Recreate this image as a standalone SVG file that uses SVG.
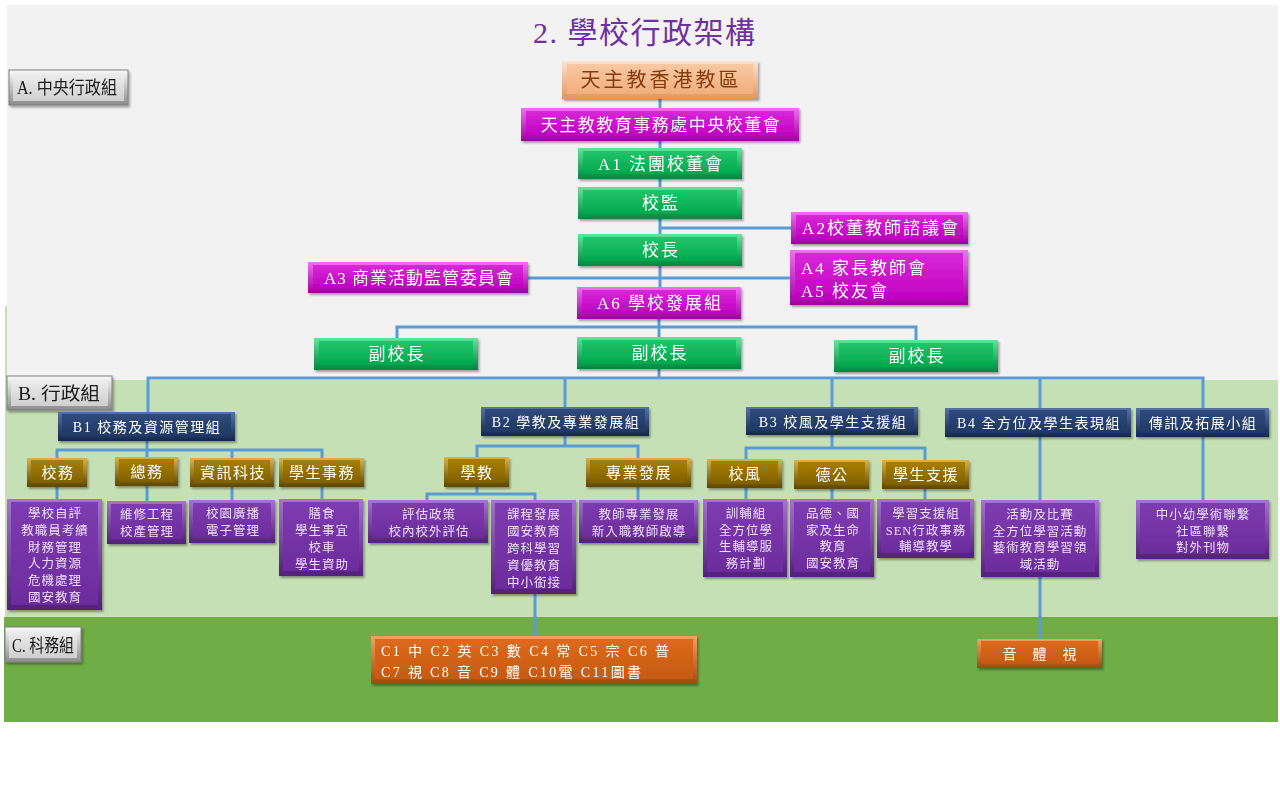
<svg xmlns="http://www.w3.org/2000/svg" width="1280" height="794" viewBox="0 0 1280 794">
<defs>
<filter id="sh" x="-10%" y="-20%" width="125%" height="150%"><feDropShadow dx="1.5" dy="2" stdDeviation="1.2" flood-color="#000" flood-opacity="0.35"/></filter>
<linearGradient id="grO" x1="0" y1="0" x2="0" y2="1"><stop offset="0" stop-color="#5ee69a"/><stop offset="1" stop-color="#00873f"/></linearGradient>
<linearGradient id="grI" x1="0" y1="0" x2="0" y2="1"><stop offset="0" stop-color="#22c46a"/><stop offset="1" stop-color="#00a84c"/></linearGradient>
<linearGradient id="mgO" x1="0" y1="0" x2="0" y2="1"><stop offset="0" stop-color="#f070f0"/><stop offset="1" stop-color="#a000a0"/></linearGradient>
<linearGradient id="mgI" x1="0" y1="0" x2="0" y2="1"><stop offset="0" stop-color="#d828d8"/><stop offset="1" stop-color="#c000c0"/></linearGradient>
<linearGradient id="orO" x1="0" y1="0" x2="0" y2="1"><stop offset="0" stop-color="#fde3cf"/><stop offset="1" stop-color="#e0965e"/></linearGradient>
<linearGradient id="orI" x1="0" y1="0" x2="0" y2="1"><stop offset="0" stop-color="#f8c9a4"/><stop offset="1" stop-color="#f2ae7a"/></linearGradient>
<linearGradient id="nvO" x1="0" y1="0" x2="0" y2="1"><stop offset="0" stop-color="#5673a6"/><stop offset="1" stop-color="#15284a"/></linearGradient>
<linearGradient id="nvI" x1="0" y1="0" x2="0" y2="1"><stop offset="0" stop-color="#2f4b7c"/><stop offset="1" stop-color="#1f3864"/></linearGradient>
<linearGradient id="gdO" x1="0" y1="0" x2="0" y2="1"><stop offset="0" stop-color="#d9b24a"/><stop offset="1" stop-color="#5e4700"/></linearGradient>
<linearGradient id="gdI" x1="0" y1="0" x2="0" y2="1"><stop offset="0" stop-color="#a88000"/><stop offset="1" stop-color="#7f6000"/></linearGradient>
<linearGradient id="puO" x1="0" y1="0" x2="0" y2="1"><stop offset="0" stop-color="#a872d0"/><stop offset="1" stop-color="#52207a"/></linearGradient>
<linearGradient id="puI" x1="0" y1="0" x2="0" y2="1"><stop offset="0" stop-color="#7d3cb0"/><stop offset="1" stop-color="#6c2c9c"/></linearGradient>
<linearGradient id="dkO" x1="0" y1="0" x2="0" y2="1"><stop offset="0" stop-color="#f5a060"/><stop offset="1" stop-color="#a24a0c"/></linearGradient>
<linearGradient id="dkI" x1="0" y1="0" x2="0" y2="1"><stop offset="0" stop-color="#de6a1c"/><stop offset="1" stop-color="#c55a11"/></linearGradient>
<linearGradient id="gyO" x1="0" y1="0" x2="0" y2="1"><stop offset="0" stop-color="#fafafa"/><stop offset="1" stop-color="#8c8c8c"/></linearGradient>
<linearGradient id="gyI" x1="0" y1="0" x2="0" y2="1"><stop offset="0" stop-color="#eeeeee"/><stop offset="1" stop-color="#cfcfcf"/></linearGradient>
</defs>
<style>
text{font-family:"Liberation Serif","Noto Sans CJK TC",serif;text-anchor:middle}
.node{filter:url(#sh)}
.green .o{fill:url(#grO)} .green .i{fill:url(#grI)}
.mag .o{fill:url(#mgO)} .mag .i{fill:url(#mgI)}
.org .o{fill:url(#orO)} .org .i{fill:url(#orI)}
.navy .o{fill:url(#nvO)} .navy .i{fill:url(#nvI)}
.gold .o{fill:url(#gdO)} .gold .i{fill:url(#gdI)}
.pur .o{fill:url(#puO)} .pur .i{fill:url(#puI)}
.dko .o{fill:url(#dkO)} .dko .i{fill:url(#dkI)}
.gray .o{fill:url(#gyO);stroke:#7f7f7f;stroke-width:1} .gray .i{fill:url(#gyI)}
.green text,.mag text,.navy text,.gold text,.dko text{fill:#ffffff}
.org text{fill:#843c0c}
.pur text{fill:#ecdff8;font-size:12.5px;letter-spacing:1px}
.gray text{fill:#1a1a1a;font-size:18px}
.big text{font-size:17px;letter-spacing:2px}
.navy text{font-size:14px;letter-spacing:1.5px}
.gold text{font-size:15px;letter-spacing:1.5px}
#connectors path{fill:none;stroke:#5b9bd5;stroke-width:3}
</style>
<rect x="0" y="0" width="1280" height="794" fill="#ffffff"/>
<rect x="7" y="5" width="1271" height="375" fill="#f2f2f2"/>
<rect x="5" y="306" width="2" height="74" fill="#c5e0b4"/>
<rect x="5" y="380" width="1273" height="237" fill="#c5e0b4"/>
<rect x="4" y="617" width="1274" height="105" fill="#70ad47"/>

<text x="644" y="43" font-size="30" fill="#7030a0" textLength="222" lengthAdjust="spacing">2. 學校行政架構</text>

<g id="connectors">
<path d="M660 99V108M660 141V148M660 179V187M660 219V234M660 228H791M660 266V287M528 278H790"/>
<path d="M659 319V337M397 338V327H916V340"/>
<path d="M659 369V378M148 412V378H1203V408M565 378V407M832 378V407M1040 378V408"/>
<path d="M147 441V457M57 458V450H322V458M232 450V458"/>
<path d="M57 487V499M147 486V501M232 487V500M322 487V499"/>
<path d="M565 436V446M477 457V446H638V458"/>
<path d="M477 487V494M427 500V494H535V500M638 487V500"/>
<path d="M535 594V636"/>
<path d="M832 435V448M746 459V448H925V460M746 488V499M832 489V499M925 489V499"/>
<path d="M1040 437V639M1203 437V500"/>
</g>

<g id="lbl-a" class="node gray"><rect class="o" x="9" y="70" width="119" height="35"/><rect class="i" x="13" y="73" width="111" height="28"/><text x="67" y="94" textLength="100" lengthAdjust="spacingAndGlyphs">A. 中央行政組</text></g>
<g id="lbl-b" class="node gray"><rect class="o" x="7" y="376" width="105" height="34"/><rect class="i" x="11" y="379" width="97" height="27"/><text x="59" y="400" textLength="82" lengthAdjust="spacingAndGlyphs">B. 行政組</text></g>
<g id="lbl-c" class="node gray"><rect class="o" x="5" y="627" width="76" height="35"/><rect class="i" x="9" y="630" width="68" height="28"/><text x="43" y="652" textLength="62" lengthAdjust="spacingAndGlyphs">C. 科務組</text></g>

<g id="n-diocese" class="node org"><rect class="o" x="562" y="61" width="196" height="38"/><rect class="i" x="567" y="64" width="186" height="30"/><text x="661" y="87" font-size="20" letter-spacing="3">天主教香港教區</text></g>
<g id="n-central" class="node mag big"><rect class="o" x="521" y="108" width="278" height="33"/><rect class="i" x="526" y="111" width="268" height="25"/><text x="661" y="131" style="letter-spacing:1.5px">天主教教育事務處中央校董會</text></g>
<g id="n-a1" class="node green big"><rect class="o" x="578" y="148" width="164" height="31"/><rect class="i" x="583" y="151" width="154" height="23"/><text x="661" y="170">A1 法團校董會</text></g>
<g id="n-supervisor" class="node green big"><rect class="o" x="578" y="187" width="164" height="32"/><rect class="i" x="583" y="190" width="154" height="24"/><text x="661" y="209">校監</text></g>
<g id="n-a2" class="node mag big"><rect class="o" x="791" y="212" width="177" height="32"/><rect class="i" x="796" y="215" width="167" height="24"/><text x="881" y="234">A2校董教師諮議會</text></g>
<g id="n-principal" class="node green big"><rect class="o" x="578" y="234" width="164" height="32"/><rect class="i" x="583" y="237" width="154" height="24"/><text x="661" y="256">校長</text></g>
<g id="n-a45" class="node mag big"><rect class="o" x="790" y="250" width="178" height="55"/><rect class="i" x="795" y="253" width="168" height="47"/><text x="801" y="274" style="text-anchor:start">A4 家長教師會</text><text x="801" y="297" style="text-anchor:start">A5 校友會</text></g>
<g id="n-a3" class="node mag big"><rect class="o" x="308" y="262" width="220" height="31"/><rect class="i" x="313" y="265" width="210" height="23"/><text x="419" y="284" style="letter-spacing:1px">A3 商業活動監管委員會</text></g>
<g id="n-a6" class="node mag big"><rect class="o" x="577" y="287" width="164" height="32"/><rect class="i" x="582" y="290" width="154" height="24"/><text x="660" y="309">A6  學校發展組</text></g>
<g id="n-vp1" class="node green big"><rect class="o" x="314" y="338" width="164" height="32"/><rect class="i" x="319" y="341" width="154" height="24"/><text x="397" y="360">副校長</text></g>
<g id="n-vp2" class="node green big"><rect class="o" x="577" y="337" width="164" height="32"/><rect class="i" x="582" y="340" width="154" height="24"/><text x="660" y="359">副校長</text></g>
<g id="n-vp3" class="node green big"><rect class="o" x="834" y="340" width="164" height="32"/><rect class="i" x="839" y="343" width="154" height="24"/><text x="917" y="362">副校長</text></g>

<g id="n-b1" class="node navy"><rect class="o" x="58" y="412" width="177" height="29"/><rect class="i" x="62" y="414" width="169" height="23"/><text x="147" y="432">B1 校務及資源管理組</text></g>
<g id="n-b2" class="node navy"><rect class="o" x="481" y="407" width="168" height="29"/><rect class="i" x="485" y="409" width="160" height="23"/><text x="566" y="427">B2 學教及專業發展組</text></g>
<g id="n-b3" class="node navy"><rect class="o" x="746" y="407" width="172" height="28"/><rect class="i" x="750" y="409" width="164" height="22"/><text x="833" y="427">B3 校風及學生支援組</text></g>
<g id="n-b4" class="node navy"><rect class="o" x="945" y="408" width="186" height="29"/><rect class="i" x="949" y="410" width="178" height="23"/><text x="1039" y="428">B4 全方位及學生表現組</text></g>
<g id="n-b5" class="node navy"><rect class="o" x="1136" y="408" width="133" height="29"/><rect class="i" x="1140" y="410" width="125" height="23"/><text x="1203" y="428">傳訊及拓展小組</text></g>

<g id="n-g1" class="node gold"><rect class="o" x="27" y="458" width="60" height="29"/><rect class="i" x="31" y="460" width="52" height="23"/><text x="58" y="478">校務</text></g>
<g id="n-g2" class="node gold"><rect class="o" x="115" y="457" width="63" height="29"/><rect class="i" x="119" y="459" width="55" height="23"/><text x="147" y="477">總務</text></g>
<g id="n-g3" class="node gold"><rect class="o" x="190" y="458" width="84" height="29"/><rect class="i" x="194" y="460" width="76" height="23"/><text x="233" y="478">資訊科技</text></g>
<g id="n-g4" class="node gold"><rect class="o" x="279" y="458" width="85" height="29"/><rect class="i" x="283" y="460" width="77" height="23"/><text x="322" y="478">學生事務</text></g>
<g id="n-g5" class="node gold"><rect class="o" x="444" y="457" width="65" height="30"/><rect class="i" x="448" y="459" width="57" height="24"/><text x="477" y="478">學教</text></g>
<g id="n-g6" class="node gold"><rect class="o" x="586" y="458" width="105" height="29"/><rect class="i" x="590" y="460" width="97" height="23"/><text x="639" y="478">專業發展</text></g>
<g id="n-g7" class="node gold"><rect class="o" x="707" y="459" width="75" height="29"/><rect class="i" x="711" y="461" width="67" height="23"/><text x="745" y="479">校風</text></g>
<g id="n-g8" class="node gold"><rect class="o" x="794" y="460" width="75" height="29"/><rect class="i" x="798" y="462" width="67" height="23"/><text x="832" y="480">德公</text></g>
<g id="n-g9" class="node gold"><rect class="o" x="882" y="460" width="87" height="29"/><rect class="i" x="886" y="462" width="79" height="23"/><text x="926" y="480">學生支援</text></g>

<g id="n-p1" class="node pur"><rect class="o" x="7" y="499" width="95" height="111"/><rect class="i" x="11" y="502" width="87" height="103"/>
<text x="55" y="518">學校自評</text><text x="55" y="535">教職員考績</text><text x="55" y="552">財務管理</text><text x="55" y="568">人力資源</text><text x="55" y="585">危機處理</text><text x="55" y="602">國安教育</text></g>
<g id="n-p2" class="node pur"><rect class="o" x="107" y="501" width="79" height="43"/><rect class="i" x="111" y="504" width="71" height="35"/><text x="147" y="519">維修工程</text><text x="147" y="536">校產管理</text></g>
<g id="n-p3" class="node pur"><rect class="o" x="189" y="500" width="86" height="43"/><rect class="i" x="193" y="503" width="78" height="35"/><text x="233" y="518">校園廣播</text><text x="233" y="535">電子管理</text></g>
<g id="n-p4" class="node pur"><rect class="o" x="279" y="499" width="84" height="77"/><rect class="i" x="283" y="502" width="76" height="69"/><text x="322" y="518">膳食</text><text x="322" y="535">學生事宜</text><text x="322" y="552">校車</text><text x="322" y="569">學生資助</text></g>
<g id="n-p5" class="node pur"><rect class="o" x="368" y="500" width="120" height="43"/><rect class="i" x="372" y="503" width="112" height="35"/><text x="429" y="519">評估政策</text><text x="429" y="536">校內校外評估</text></g>
<g id="n-p6" class="node pur"><rect class="o" x="491" y="500" width="85" height="94"/><rect class="i" x="495" y="503" width="77" height="86"/><text x="534" y="519">課程發展</text><text x="534" y="536">國安教育</text><text x="534" y="553">跨科學習</text><text x="534" y="570">資優教育</text><text x="534" y="587">中小銜接</text></g>
<g id="n-p7" class="node pur"><rect class="o" x="579" y="500" width="119" height="43"/><rect class="i" x="583" y="503" width="111" height="35"/><text x="639" y="519">教師專業發展</text><text x="639" y="536">新入職教師啟導</text></g>
<g id="n-p8" class="node pur"><rect class="o" x="703" y="499" width="84" height="78"/><rect class="i" x="707" y="502" width="76" height="70"/><text x="746" y="518">訓輔組</text><text x="746" y="535">全方位學</text><text x="746" y="551">生輔導服</text><text x="746" y="568">務計劃</text></g>
<g id="n-p9" class="node pur"><rect class="o" x="790" y="499" width="84" height="78"/><rect class="i" x="794" y="502" width="76" height="70"/><text x="833" y="518">品德、國</text><text x="833" y="535">家及生命</text><text x="833" y="551">教育</text><text x="833" y="568">國安教育</text></g>
<g id="n-p10" class="node pur"><rect class="o" x="877" y="499" width="97" height="59"/><rect class="i" x="881" y="502" width="89" height="51"/><text x="926" y="518">學習支援組</text><text x="926" y="535">SEN行政事務</text><text x="926" y="551">輔導教學</text></g>
<g id="n-p11" class="node pur"><rect class="o" x="981" y="500" width="118" height="77"/><rect class="i" x="985" y="503" width="110" height="69"/><text x="1040" y="519">活動及比賽</text><text x="1040" y="536">全方位學習活動</text><text x="1040" y="552">藝術教育學習領</text><text x="1040" y="569">域活動</text></g>
<g id="n-p12" class="node pur"><rect class="o" x="1136" y="500" width="133" height="59"/><rect class="i" x="1140" y="503" width="125" height="51"/><text x="1203" y="519">中小幼學術聯繫</text><text x="1203" y="536">社區聯繫</text><text x="1203" y="552">對外刊物</text></g>

<g id="n-c" class="node dko"><rect class="o" x="371" y="636" width="326" height="48"/><rect class="i" x="375" y="639" width="318" height="40"/><text x="381" y="656" font-size="14" style="text-anchor:start" textLength="288" lengthAdjust="spacing">C1 中  C2 英  C3 數  C4 常  C5 宗 C6 普</text><text x="381" y="677" font-size="14" style="text-anchor:start" textLength="260" lengthAdjust="spacing">C7 視  C8 音  C9 體  C10電 C11圖書</text></g>
<g id="n-ama" class="node dko"><rect class="o" x="977" y="639" width="125" height="29"/><rect class="i" x="981" y="641" width="117" height="23"/><text x="1040" y="659" font-size="14" letter-spacing="1">音　體　視</text></g>
</svg>
